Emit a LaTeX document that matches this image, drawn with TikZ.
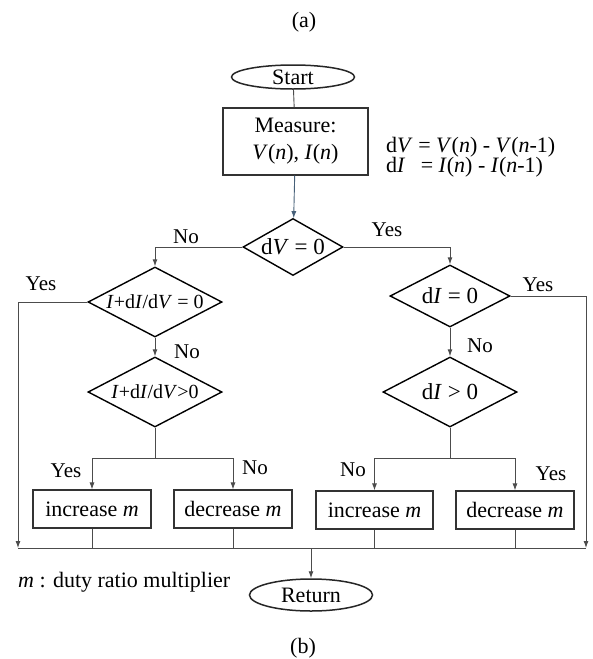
\documentclass[tikz,border=0pt]{standalone}
\usepackage{fontspec}
\setmainfont{Liberation Serif}
\usepackage{tikz}
\usetikzlibrary{arrows.meta,shapes.geometric,positioning,calc}

\begin{document}
\begin{tikzpicture}[x=1pt, y=-1pt,
    every node/.style={font=\fontsize{22}{27}\selectfont, inner sep=0pt},
    term/.style={draw=black!85, line width=1.5pt, ellipse, minimum width=123pt},
    proc/.style={draw=black!80, line width=1.1pt, rectangle, minimum width=118pt, minimum height=38pt},
    cond/.style={draw=black, line width=1.4pt, diamond, shape aspect=1.9, minimum width=134pt, minimum height=70pt,
        font=\fontsize{23}{27}\selectfont},
    small/.style={font=\fontsize{20}{22}\selectfont},
    lbl/.style={font=\fontsize{21}{24}\selectfont},
    line/.style={draw=black!70, line width=0.9pt},
    arr/.style={line, -{Latex[length=7pt,width=5pt]}}
]
\useasboundingbox (0,0) rectangle (593,659);

% start and measurement
\node (capa) at (304,22) {(a)};
\node[term, minimum height=24pt] (start) at (293,77) {Start};
\node[proc, minimum width=145pt, minimum height=67pt, align=center] (meas) at (295.5,141.5)
    {Measure:\\ \textit{V}(\textit{n}), \textit{I}(\textit{n})};
\node[anchor=west, align=left, font=\fontsize{22}{20}\selectfont] (eqs) at (386,157)
    {d\textit{V} = \textit{V}(\textit{n}) - \textit{V}(\textit{n}-1)\\
     d\textit{I}\hspace{0.45em} = \textit{I}(\textit{n}) - \textit{I}(\textit{n}-1)};

% decisions
\node[cond, shape aspect=1.75, minimum width=100pt, minimum height=57pt] (dv) at (293,247) {d\textit{V} = 0};
\node[cond, small] (gl) at (155,302) {\textit{I}+d\textit{I}/d\textit{V} = 0};
\node[cond, small] (gm) at (155,392) {\textit{I}+d\textit{I}/d\textit{V}>0};
\node[cond, minimum width=120pt, minimum height=62pt] (di) at (450,296) {d\textit{I} = 0};
\node[cond] (dp) at (450,392) {d\textit{I} > 0};

% actions
\node[proc] (incl) at (92,509) {increase \textit{m}};
\node[proc] (decl) at (233,509) {decrease \textit{m}};
\node[proc, minimum width=117pt] (incr) at (374.5,510) {increase \textit{m}};
\node[proc] (decr) at (515,510) {decrease \textit{m}};
\node[term, minimum height=32pt] (ret) at (311,595) {Return};

\node[anchor=base west] (note) at (18,587) {\textit{m} : duty ratio multiplier};
\node (capb) at (303,648) {(b)};

\coordinate (busl) at (18,548);
\coordinate (busr) at (586,548);
\coordinate (splitl) at (155,458);
\coordinate (splitr) at (450,458);

% labels
\node[lbl] at (186,237) {No};
\node[lbl] at (387,230) {Yes};
\node[lbl] at (41,284) {Yes};
\node[lbl] at (187,352) {No};
\node[lbl] at (538,285) {Yes};
\node[lbl] at (480,346) {No};
\node[lbl] at (66,471) {Yes};
\node[lbl] at (255,468) {No};
\node[lbl] at (353,470) {No};
\node[lbl] at (551,474) {Yes};

% connectors
\draw[line] (start) -- (meas);
\draw[arr, draw={rgb,255:red,70;green,95;blue,120}] (meas) -- (dv);
\draw[arr] (dv.west) -| (gl.north);
\draw[arr] (dv.east) -| (di.north);
\draw[arr] (gl) -- (gm);
\draw[arr] (di) -- (dp);
\draw[arr] (gl.west) -| (busl);
\draw[arr] (di.east) -| (busr);
\draw[line] (gm.south) -- (splitl);
\draw[arr] (splitl) -| (incl.north);
\draw[arr] (splitl) -| (decl.north);
\draw[line] (dp.south) -- (splitr);
\draw[arr] (splitr) -| (incr.north);
\draw[arr] (splitr) -| (decr.north);
\draw[line] (busl) -- (busr);
\foreach \b in {incl,decl,incr,decr}
    \draw[line] (\b.south) -- (\b.south |- busl);
\draw[arr] (ret.north |- busl) -- (ret.north);
\end{tikzpicture}
\end{document}
